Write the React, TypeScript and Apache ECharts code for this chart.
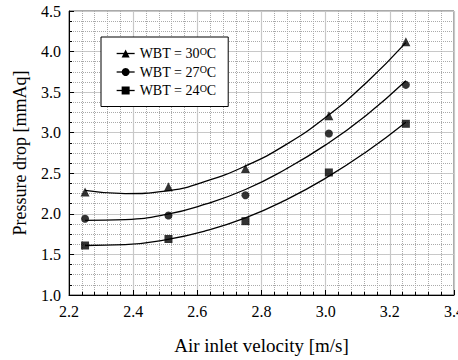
import React, { useEffect, useRef } from "react";
import * as echarts from "echarts";

// Measured points
const velocity = [2.25, 2.51, 2.75, 3.01, 3.25];
const wbt30 = [2.27, 2.335, 2.56, 3.21, 4.12];
const wbt27 = [1.94, 1.98, 2.23, 2.99, 3.59];
const wbt24 = [1.61, 1.69, 1.91, 2.51, 3.11];

// Fitted trend curves
const fitVelocity = [2.25, 2.375, 2.5, 2.625, 2.75, 2.875, 3.0, 3.125, 3.25];
const fit30 = [2.29, 2.25, 2.28, 2.4, 2.59, 2.85, 3.19, 3.61, 4.11];
const fit27 = [1.92, 1.93, 1.99, 2.12, 2.3, 2.55, 2.85, 3.21, 3.64];
const fit24 = [1.61, 1.62, 1.68, 1.79, 1.95, 2.17, 2.44, 2.76, 3.13];

const seriesNames = ["WBT = 30", "WBT = 27", "WBT = 24"];
const symbols = ["triangle", "circle", "rect"];

const FONT = "Liberation Serif";

const pairs = (xs: number[], ys: number[]) => xs.map((x, i) => [x, ys[i]]);

export default function App() {
  const ref = useRef<HTMLDivElement>(null);
  useEffect(() => {
    document.body.style.margin = "0";
    const chart = echarts.init(ref.current!, null, { renderer: "svg" });
    const pointSets = [wbt30, wbt27, wbt24];
    const fitSets = [fit30, fit27, fit24];
    const series: any[] = [];
    fitSets.forEach((f, i) => {
      series.push({
        name: seriesNames[i],
        type: "line",
        data: pairs(fitVelocity, f),
        smooth: true,
        symbol: symbols[i],
        showSymbol: false,
        symbolSize: 8,
        itemStyle: { color: "#000" },
        lineStyle: { color: "#000", width: 1.3 },
        z: 3,
      });
    });
    pointSets.forEach((p, i) => {
      series.push({
        name: seriesNames[i] + " data",
        type: "scatter",
        data: pairs(velocity, p),
        symbol: symbols[i],
        symbolSize: i === 0 ? 9 : 8,
        itemStyle: { color: "#000" },
        z: 4,
      });
    });

    chart.setOption({
      animation: false,
      backgroundColor: "#fff",
      textStyle: { fontFamily: FONT },
      grid: {
        left: 69,
        right: 4,
        top: 11,
        bottom: 65,
        show: true,
        borderColor: "#555",
        borderWidth: 1,
        containLabel: false,
        outerBoundsMode: "none",
      },
      legend: {
        data: seriesNames,
        orient: "vertical",
        left: 101,
        top: 37,
        backgroundColor: "#fff",
        borderColor: "#000",
        borderWidth: 1,
        borderRadius: 0,
        padding: [9, 12, 9, 15],
        itemWidth: 18,
        itemHeight: 10,
        itemGap: 4,
        lineStyle: { color: "#000", width: 1.3 },
        formatter: (name: string) => `{t|${name}}{s|O}{t|C}`,
        textStyle: {
          fontFamily: FONT,
          color: "#000",
          rich: {
            t: { fontFamily: FONT, fontSize: 14, color: "#000", lineHeight: 15 },
            s: { fontFamily: FONT, fontSize: 10, color: "#000", verticalAlign: "top", lineHeight: 10 },
          },
        },
      },
      xAxis: {
        type: "value",
        min: 2.2,
        max: 3.4,
        interval: 0.2,
        name: "Air inlet velocity [m/s]",
        nameLocation: "middle",
        nameGap: 41,
        nameTextStyle: { fontFamily: FONT, fontSize: 19, color: "#000" },
        axisLine: { show: true, lineStyle: { color: "#000", width: 1 } },
        axisTick: { show: true, inside: true, length: 5, lineStyle: { color: "#000" } },
        minorTick: { show: true, splitNumber: 5, length: 3, lineStyle: { color: "#000" } },
        axisLabel: {
          fontFamily: FONT,
          fontSize: 16,
          color: "#000",
          margin: 8,
          formatter: (v: number) => v.toFixed(1),
        },
        splitLine: { show: true, lineStyle: { color: "#c8c8c8", width: 1.2 } },
        minorSplitLine: { show: true, lineStyle: { color: "#aaa", type: "dotted", width: 1 } },
      },
      yAxis: {
        type: "value",
        min: 1.0,
        max: 4.5,
        interval: 0.5,
        name: "Pressure drop [mmAq]",
        nameLocation: "middle",
        nameGap: 40,
        nameTextStyle: { fontFamily: FONT, fontSize: 18, color: "#000" },
        axisLine: { show: true, lineStyle: { color: "#000", width: 1 } },
        axisTick: { show: true, inside: true, length: 5, lineStyle: { color: "#000" } },
        minorTick: { show: true, splitNumber: 4, length: 3, lineStyle: { color: "#000" } },
        axisLabel: {
          fontFamily: FONT,
          fontSize: 16,
          color: "#000",
          margin: 8,
          formatter: (v: number) => v.toFixed(1),
        },
        splitLine: { show: true, lineStyle: { color: "#c8c8c8", width: 1.2 } },
        minorSplitLine: { show: true, lineStyle: { color: "#aaa", type: "dotted", width: 1 } },
      },
      series,
    });
    return () => chart.dispose();
  }, []);
  return <div ref={ref} style={{ width: 458, height: 360 }} />;
}
